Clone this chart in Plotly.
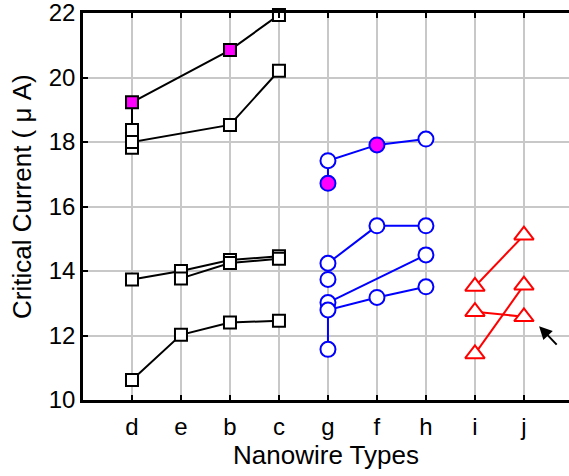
import plotly.graph_objects as go

categories = ["d", "e", "b", "c", "g", "f", "h", "i", "j"]

# Black square series (category, value, filled-magenta flag)
sq_a_x = ["d", "d", "b", "c"]
sq_a_y = [18.37, 19.23, 20.85, 21.94]
sq_a_fill = [0, 1, 1, 0]

sq_b_x = ["d", "d", "b", "c"]
sq_b_y = [17.82, 18.00, 18.53, 20.21]
sq_b_fill = [0, 0, 0, 0]

sq_c_x = ["d", "e", "b", "c"]
sq_c_y = [13.74, 14.00, 14.34, 14.46]
sq_c_fill = [0, 0, 0, 0]

sq_d_x = ["e", "b", "c"]
sq_d_y = [13.77, 14.25, 14.38]
sq_d_fill = [0, 0, 0]

sq_e_x = ["d", "e", "b", "c"]
sq_e_y = [10.62, 12.02, 12.40, 12.46]
sq_e_fill = [0, 0, 0, 0]

# Blue circle series
ci_a_x = ["g", "g", "f", "h"]
ci_a_y = [16.72, 17.42, 17.91, 18.09]
ci_a_fill = [1, 0, 1, 0]

ci_b_x = ["g", "f", "h"]
ci_b_y = [14.24, 15.40, 15.40]
ci_b_fill = [0, 0, 0]

ci_c_x = ["g"]
ci_c_y = [13.74]
ci_c_fill = [0]

ci_d_x = ["g", "h"]
ci_d_y = [13.02, 14.50]
ci_d_fill = [0, 0]

ci_e_x = ["g", "g", "f", "h"]
ci_e_y = [11.57, 12.79, 13.18, 13.51]
ci_e_fill = [0, 0, 0, 0]

# Red triangle series
tr_a_x = ["i", "j"]
tr_a_y = [13.52, 15.11]

tr_b_x = ["i", "j"]
tr_b_y = [12.74, 12.58]

tr_c_x = ["i", "j"]
tr_c_y = [11.43, 13.56]

# Arrow annotation target
arrow_x = 9.31
arrow_y = 12.29

MAGENTA = "#FF00FF"


def idx(cats):
    return [categories.index(c) + 1 for c in cats]


fig = go.Figure()


def add(xs, ys, fills, color, symbol, size):
    fig.add_trace(go.Scatter(
        x=idx(xs), y=ys, mode="lines+markers",
        line=dict(color=color, width=2),
        marker=dict(symbol=symbol, size=size,
                    color=[MAGENTA if f else "white" for f in fills],
                    line=dict(color=color, width=2)),
        showlegend=False, cliponaxis=False))


for xs, ys, fl in [(sq_a_x, sq_a_y, sq_a_fill), (sq_b_x, sq_b_y, sq_b_fill),
                   (sq_c_x, sq_c_y, sq_c_fill), (sq_d_x, sq_d_y, sq_d_fill),
                   (sq_e_x, sq_e_y, sq_e_fill)]:
    add(xs, ys, fl, "black", "square", 12)

for xs, ys, fl in [(ci_a_x, ci_a_y, ci_a_fill), (ci_b_x, ci_b_y, ci_b_fill),
                   (ci_c_x, ci_c_y, ci_c_fill), (ci_d_x, ci_d_y, ci_d_fill),
                   (ci_e_x, ci_e_y, ci_e_fill)]:
    add(xs, ys, fl, "#0000FF", "circle", 15)

for xs, ys in [(tr_a_x, tr_a_y), (tr_b_x, tr_b_y), (tr_c_x, tr_c_y)]:
    add(xs, ys, [0] * len(xs), "#FF0000", "triangle-up", 17)

fig.add_annotation(x=arrow_x, y=arrow_y, ax=19, ay=20, text="",
                   showarrow=True, arrowhead=2, arrowsize=1.3,
                   arrowwidth=2, arrowcolor="black", standoff=0)

fig.add_annotation(x=0, xref="paper", y=0.5245, yref="paper",
                   xanchor="center", yanchor="middle", xshift=-61,
                   text="Critical Current ( μ A)", textangle=-90,
                   showarrow=False, font=dict(size=26))

font = "Liberation Sans, Arial, sans-serif"
fig.update_layout(
    width=569, height=476,
    margin=dict(l=83, r=0, t=13, b=76),
    paper_bgcolor="white", plot_bgcolor="white",
    font=dict(family=font, color="black", size=24),
    xaxis=dict(range=[0, 9.92], tickvals=list(range(1, len(categories) + 1)),
               ticktext=categories, showgrid=True, gridcolor="#c8c8c8",
               gridwidth=1.5, showline=True, linecolor="black", linewidth=2.5,
               mirror="ticks", ticks="inside", ticklen=5, tickwidth=2,
               tickcolor="black", zeroline=False, ticklabelstandoff=3,
               tickfont=dict(size=24),
               title=dict(text="Nanowire Types", font=dict(size=26), standoff=8)),
    yaxis=dict(range=[10, 22], dtick=2, showgrid=True, gridcolor="#c8c8c8",
               gridwidth=1.5, showline=True, linecolor="black", linewidth=2.5,
               ticks="inside", ticklen=5, tickwidth=2, tickcolor="black",
               zeroline=False, tickfont=dict(size=24),
               ticklabeloverflow="allow"),
)

fig.write_html("out.html")
